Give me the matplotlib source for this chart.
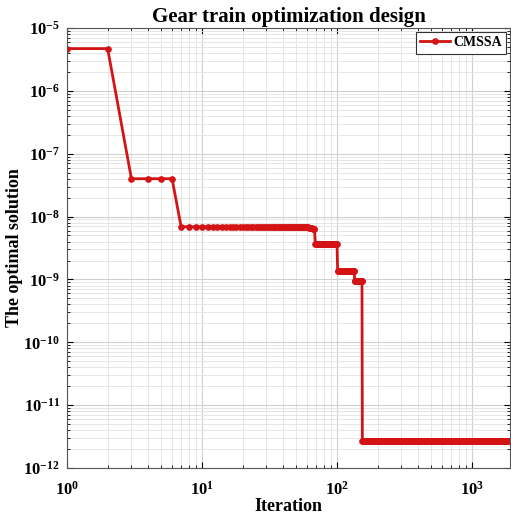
import numpy as np
import matplotlib
matplotlib.use('Agg')
import matplotlib.pyplot as plt
from matplotlib.ticker import LogLocator, NullFormatter

# 収束曲線: 各段の開始イテレーションと最良値
max_iter = 2000
step_starts = [1, 3, 7, 62, 66, 69, 101, 135, 154]
step_values = [4.7e-6, 4.0e-8, 6.9e-9, 6.7e-9, 6.4e-9, 3.7e-9, 1.38e-9, 9.6e-10, 2.7e-12]

iterations = np.arange(1, max_iter + 1)
seg_len = np.diff(step_starts + [max_iter + 1])
best_fitness = np.repeat(step_values, seg_len)

plt.rcParams['font.family'] = ['Liberation Serif', 'DejaVu Serif']
plt.rcParams['mathtext.fontset'] = 'custom'
plt.rcParams['mathtext.rm'] = 'Liberation Serif:bold'
plt.rcParams['mathtext.it'] = 'Liberation Serif:bold'
plt.rcParams['mathtext.bf'] = 'Liberation Serif:bold'

fig = plt.figure(figsize=(5.11, 5.17), dpi=100)
ax = fig.add_axes([67 / 511, 1 - 468 / 517, (510 - 67) / 511, (468 - 28) / 517])

ax.loglog(iterations, best_fitness, color='#d41414', linewidth=2,
          marker='o', markersize=3.8, label='CMSSA')

ax.set_xlim(1, 1910)
ax.set_ylim(1e-12, 1e-5)

ax.xaxis.set_major_locator(LogLocator(base=10, numticks=10))
ax.yaxis.set_major_locator(LogLocator(base=10, numticks=10))
ax.xaxis.set_minor_locator(LogLocator(base=10, subs=np.arange(2, 10), numticks=20))
ax.yaxis.set_minor_locator(LogLocator(base=10, subs=np.arange(2, 10), numticks=20))
ax.xaxis.set_minor_formatter(NullFormatter())
ax.yaxis.set_minor_formatter(NullFormatter())

ax.grid(True, which='major', color='#d0d0d0', linewidth=0.8)
ax.grid(True, which='minor', color='#e2e2e2', linewidth=0.6)
ax.set_axisbelow(True)

ax.tick_params(which='both', direction='in', top=True, right=True, labelsize=12)
ax.tick_params(which='major', length=4)
ax.tick_params(which='minor', length=2)
ax.tick_params(axis='x', which='major', pad=9)
ax.tick_params(axis='y', which='major', pad=5)
for lab in ax.get_xticklabels() + ax.get_yticklabels():
    lab.set_fontweight('bold')
for sp in ax.spines.values():
    sp.set_color('#555555')
    sp.set_linewidth(0.8)

ax.set_title('Gear train optimization design', fontsize=15, fontweight='bold', pad=4)
ax.set_xlabel('Iteration', fontsize=13, fontweight='bold', labelpad=0)
ax.set_ylabel('The optimal solution', fontsize=13, fontweight='bold', labelpad=0)

leg = ax.legend(loc='upper right', prop={'weight': 'bold', 'size': 10},
                fancybox=False, edgecolor='#333333', framealpha=1,
                handlelength=2.2, borderpad=0.3, handletextpad=0.2, borderaxespad=0.3)
leg.get_frame().set_linewidth(0.8)

fig.savefig('out.png', dpi=100)
